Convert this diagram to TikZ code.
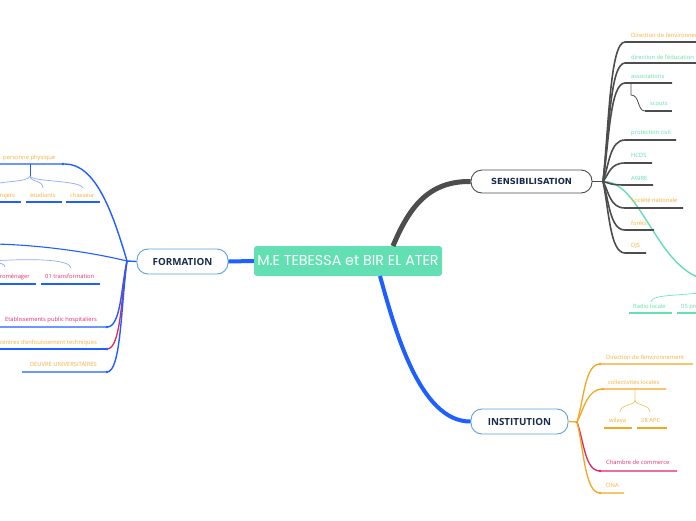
\documentclass[tikz,border=0pt]{standalone}
\usepackage{fontspec}
\setmainfont{Open Sans}
\newfontfamily\sensfont{DejaVu Sans}
\newfontfamily\centerfont{Poppins}
\usetikzlibrary{arrows.meta}
\definecolor{orangeT}{HTML}{F7B03C}
\definecolor{orangeL}{HTML}{F5A623}
\definecolor{greenT}{HTML}{5FE0A8}
\definecolor{pinkT}{HTML}{E8336B}
\definecolor{crimL}{HTML}{E0245E}
\definecolor{blueL}{HTML}{1F5EFF}
\definecolor{blueS}{HTML}{8FA9FF}
\definecolor{grayL}{HTML}{4D4D4D}
\definecolor{navy}{HTML}{1A2B4C}
\definecolor{tealC}{HTML}{63DFB4}
\definecolor{borderB}{HTML}{5BA3DC}
\tikzset{
  lbl/.style={inner sep=0pt, anchor=base west, font=\fontsize{5.8}{7}\selectfont},
  lblr/.style={lbl, anchor=base east},
  ot/.style={text=orangeT}, gt/.style={text=greenT}, pt/.style={text=pinkT},
  topic/.style={draw, fill=white, line width=0.9pt, rounded corners=11pt, inner sep=0pt, text=navy},
  gbr/.style={draw=grayL, line width=1.6pt},
  bbr/.style={draw=blueL, line width=1.4pt},
  obr/.style={draw=orangeL, line width=1.3pt},
  cbr/.style={draw=crimL, line width=1.3pt},
}
\begin{document}
\begin{tikzpicture}[x=1pt,y=-1pt]
\clip (0,0) rectangle (696,520);
\fill[white] (0,0) rectangle (696,520);

% main topics
\node[fill=tealC, rounded corners=3pt, minimum width=188pt, minimum height=30pt, inner sep=0pt, text=white, font=\centerfont\fontsize{14.3}{15}\selectfont] (center) at (348,261) {M.E TEBESSA et BIR EL ATER};
\node[topic, draw=borderB, minimum width=91pt, minimum height=25pt, font=\bfseries\fontsize{9.8}{11}\selectfont] (formation) at (182.5,261.5) {FORMATION};
\node[topic, draw=grayL, minimum width=121pt, minimum height=23pt, font=\sensfont\bfseries\fontsize{8.4}{9}\selectfont] (sensib) at (531.5,181.5) {SENSIBILISATION};
\node[topic, draw=borderB, minimum width=97pt, minimum height=25pt, font=\bfseries\fontsize{9.8}{11}\selectfont] (institution) at (519.5,421.5) {INSTITUTION};

\draw[blueL, line width=4pt] (center.west) -- (formation.east);
\draw[grayL, line width=5pt] (393,246) .. controls (410,205) and (430,181) .. (sensib.west);
\draw[blueL, line width=4pt] (380,276) .. controls (395,330) and (420,422) .. (institution.west);

% ---------------- SENSIBILISATION ----------------
\coordinate (fS) at (603,181.5);
\draw[gbr] (sensib.east) -- (fS);
\draw[tealC, line width=1.4pt] (fS) .. controls (640,181) and (655,262) .. (700,278);

\node[lbl,ot] (s1) at (631,37) {Direction de l'environnement};
\node[lbl,gt] (s2) at (631,59) {direction de l'éducation};
\node[lbl,gt] (s3) at (631,78) {associations};
\node[lbl,gt] (s3a) at (650,105) {scouts};
\node[lbl,gt] (s4) at (631,134.5) {protection civil};
\node[lbl,gt] (s5) at (631,157) {HCDS};
\node[lbl,gt] (s6) at (631,180) {AGIRE};
\node[lbl,ot] (s7) at (631,202) {Société nationale};
\node[lbl,ot] (s8) at (631,225) {forêts};
\node[lbl,ot] (s9) at (631,247) {DJS};

\foreach \ty/\tx in {42/700, 63/700, 83/672, 140/676, 163/652, 185/653, 208/683, 230/654, 253/646}{
  \draw[gbr] (fS) .. controls (609,{181.5+(\ty-181.5)*0.4}) and (610,\ty) .. (625,\ty) -- (\tx,\ty);
}
\draw[grayL, line width=0.8pt] (631,83) -- (631,95) .. controls (640,95) and (637,111) .. (645,111);
\draw[grayL, line width=1.4pt] (645,111) -- (672,111);

% radio
\node[lbl,gt] (r1) at (633,308) {Radio locale};
\node[lbl,gt] (r2) at (681,308) {05 presse};
\draw[tealC, line width=0.6pt] (700,293) .. controls (670,296) and (652,295) .. (651,302);
\draw[tealC, line width=1.4pt] (629,313) -- (672,313);
\draw[tealC, line width=1.4pt] (677,313) -- (700,313);

% ---------------- INSTITUTION ----------------
\coordinate (fI) at (577,422);
\draw[obr] (institution.east) -- (fI);
\node[lbl,ot] (i1) at (606,359) {Direction de l'environnement};
\node[lbl,ot] (i2) at (608,384) {collectivités locales};
\node[lbl,ot] (i2a) at (609,422) {wilaya};
\node[lbl,ot] (i2b) at (641,422) {28 APC};
\node[lbl,pt] (i3) at (606,464) {Chambre de commerce};
\node[lbl,ot] (i4) at (606,487.5) {ONA};

\draw[obr] (fI) .. controls (584,{422+(364-422)*0.4}) and (585,364) .. (600,364) -- (693,364);
\draw[obr] (fI) .. controls (584,{422+(389-422)*0.4}) and (587,389) .. (603,389) -- (666,389);
\draw[cbr] (fI) .. controls (584,{422+(471-422)*0.4}) and (585,471) .. (600,471) -- (677,471);
\draw[obr] (fI) .. controls (584,{422+(493-422)*0.4}) and (585,493) .. (600,493) -- (624,493);
\foreach \p in {(600,364),(603,389),(600,493)} \fill[orangeL] \p circle (1.4pt);
\fill[crimL] (600,471) circle (1.4pt);
\draw[orangeL!70, line width=0.7pt] (635,389) -- (635,400) .. controls (635,406) and (620,404) .. (620,412);
\draw[orangeL!70, line width=0.7pt] (635,400) .. controls (635,406) and (650,404) .. (650,412);
\draw[orangeL, line width=1.3pt] (604,428) -- (632,428);
\draw[orangeL, line width=1.3pt] (637,428) -- (667,428);

% ---------------- FORMATION ----------------
\coordinate (fF) at (127,261);
\draw[bbr] (formation.west) -- (fF);
\node[lbl,ot] (f1) at (3,159) {personne physique};
\node[lblr,ot] (f1a) at (15,197) {projets};
\node[lbl,ot] (f1b) at (30,197) {étudiants};
\node[lbl,ot] (f1c) at (70,197) {chasseur};
\node[lblr,pt] (f2a) at (30,278) {électroménager};
\node[lbl,pt] (f2b) at (45,278) {01 transformation};
\node[lblr,pt] (f3) at (97,321) {Etablissements public hospitaliers};
\node[lblr,ot] (f4) at (97,344) {centres d'enfouissement techniques};
\node[lblr,ot] (f5) at (97,366.5) {OEUVRE UNIVERSITAIRES};

\draw[bbr] (fF) .. controls (112,210) and (95,164) .. (65,164) -- (-5,164);
\draw[blueL, line width=0.9pt] (30,164) -- (30,176);
\draw[blueS, line width=0.7pt] (30,176) .. controls (30,182) and (43,180) .. (43,188);
\draw[blueS, line width=0.7pt] (30,176) .. controls (32,182) and (80,180) .. (83,188);
\draw[blueS, line width=0.7pt] (30,176) .. controls (28,182) and (5,181) .. (-5,184);
\foreach \a/\b in {-5/21, 26/62, 66/100} \draw[blueL, line width=1.4pt] (\a,202) -- (\b,202);

\draw[blueL, line width=1.1pt] (fF) .. controls (90,252) and (40,245) .. (-5,244);
\draw[blueS, line width=0.7pt] (-10,261) .. controls (40,258) and (70,260) .. (71,268);
\draw[blueS, line width=0.7pt] (-10,263) .. controls (0,262) and (5,264) .. (5,267);
\draw[blueL, line width=1.4pt] (-5,284) -- (36,284);
\draw[blueL, line width=1.4pt] (41,284) -- (100,284);

\draw[bbr] (fF) .. controls (121,{261+66*0.4}) and (121,327) .. (107,327) -- (-5,327);
\draw[crimL, line width=1.3pt] (fF) .. controls (121,{261+88*0.4}) and (121,349) .. (107,349);
\draw[blueL, line width=1.4pt] (107,349) -- (-5,349);
\draw[bbr] (fF) .. controls (121,{261+111*0.4}) and (121,372) .. (107,372) -- (22,372);
\fill[blueL] (63,164) circle (1.4pt);
\foreach \y in {327,349,372} \fill[blueL] (107,\y) circle (1.4pt);
\end{tikzpicture}
\end{document}
